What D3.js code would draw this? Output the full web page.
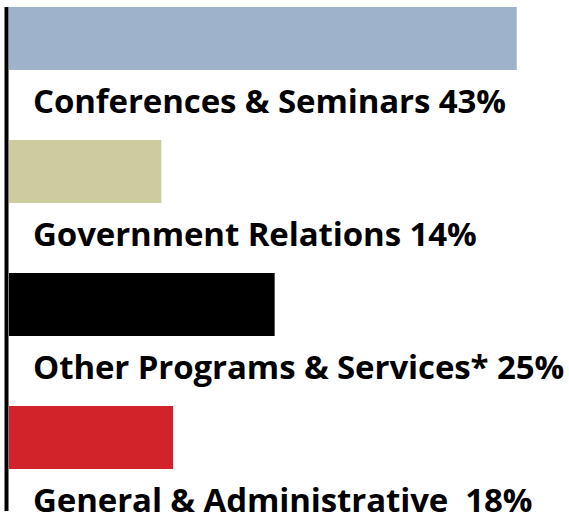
<!DOCTYPE html>
<html>
<head>
<meta charset="utf-8">
<script src="https://cdn.jsdelivr.net/npm/d3@7"></script>
<style>
  html, body { margin: 0; padding: 0; background: #fff; }
  svg { display: block; }
</style>
</head>
<body>
<div id="chart"></div>
<script>
// Expense categories, label text and bar lengths
const categories = [
  'Conferences & Seminars',
  'Government Relations',
  'Other Programs & Services*',
  'General & Administrative '
];
const percentLabels = ['43%', '14%', '25%', '18%'];
const barValues = [43, 12.9, 22.5, 13.9];
const barColors = ['#9fb2cc', '#cdcc9f', '#000000', '#d2232b'];

const width = 569;
const height = 518;

const svg = d3.select('#chart')
  .append('svg')
  .attr('width', width)
  .attr('height', height);

const x = d3.scaleLinear()
  .domain([0, 43])
  .range([9, 516.7]);

// 63px bars on a 133px step
const y = d3.scaleBand()
  .domain(categories)
  .range([7, 7 + 3 * 133 + 63])
  .paddingInner(70 / 133)
  .paddingOuter(0)
  .align(0);

const rows = categories.map((c, i) => ({
  cat: c,
  value: barValues[i],
  label: c + ' ' + percentLabels[i],
  color: barColors[i]
}));

svg.selectAll('.bar')
  .data(rows)
  .enter()
  .append('rect')
  .attr('class', 'bar')
  .attr('x', x(0))
  .attr('y', d => y(d.cat))
  .attr('width', d => x(d.value) - x(0))
  .attr('height', y.bandwidth())
  .attr('fill', d => d.color);

svg.selectAll('.label')
  .data(rows)
  .enter()
  .append('text')
  .attr('class', 'label')
  .attr('x', 33)
  .attr('y', d => y(d.cat) + y.bandwidth() + 42.5)
  .attr('fill', '#000')
  .attr('font-family', '"Open Sans", sans-serif')
  .attr('font-weight', 700)
  .attr('font-size', '33px')
  .attr('letter-spacing', '-0.1px')
  .style('white-space', 'pre')
  .text(d => d.label);

// vertical axis line
svg.append('line')
  .attr('x1', 6.5)
  .attr('x2', 6.5)
  .attr('y1', 7)
  .attr('y2', 511)
  .attr('stroke', '#000')
  .attr('stroke-width', 4);
</script>
</body>
</html>
